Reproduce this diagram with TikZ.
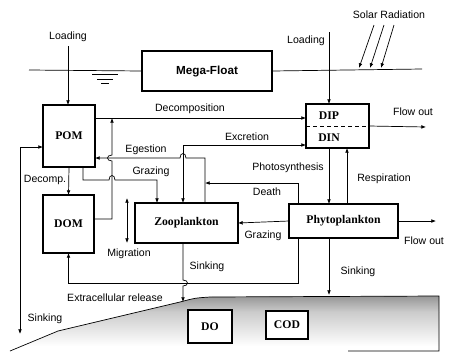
\documentclass[tikz,border=0pt]{standalone}
\usepackage{fontspec}
\setmainfont{Liberation Sans}
\newfontfamily\boxfont{Liberation Serif}
\usetikzlibrary{arrows.meta,calc}

\begin{document}
\begin{tikzpicture}[x={(0.03cm,0)}, y={(0,-0.03cm)},
    lbl/.style={font=\fontsize{9}{10}\selectfont, inner sep=0pt},
    box/.style={draw, line width=1.2pt, inner sep=0pt, outer sep=0pt, fill=white,
        font=\boxfont\bfseries\fontsize{10}{12}\selectfont},
    flow/.style={line width=0.6pt, -{Latex[length=4pt,width=3.2pt]}},
    flowb/.style={line width=0.6pt, {Latex[length=4pt,width=3.2pt]}-{Latex[length=4pt,width=3.2pt]}},
    line/.style={line width=0.6pt}]
    \useasboundingbox (0,0) rectangle (452,352);

    %sediment
        \begin{scope}
            \clip (10,351) -- (58,331) -- (180,302) .. controls (195,298) .. (210,297) -- (439,296) -- (439,351) -- cycle;
            \shade[top color=gray!85, bottom color=gray!40] (0,295) rectangle (440,312);
            \shade[top color=gray!40, bottom color=white] (0,312) rectangle (440,346);
        \end{scope}
        \draw[line] (10,351) -- (58,331) -- (180,302) .. controls (195,298) .. (210,297) -- (439,296) -- (439,351) -- (348,351);

    %boxes
        \node[box, minimum width=3.9cm, minimum height=1.2cm, font=\bfseries\fontsize{10}{12}\selectfont] (mega) at (207,71) {Mega-Float};
        \node[box, minimum width=1.56cm, minimum height=1.86cm] (pom) at (69,136) {POM};
        \node[box, minimum width=1.53cm, minimum height=1.74cm] (dom) at (68.5,224) {DOM};
        \node[box, minimum width=1.89cm, minimum height=1.32cm] (nut) at (337.5,126) {};
        \node[box, minimum width=3.09cm, minimum height=1.2cm] (zoo) at (186.5,223) {Zooplankton};
        \node[box, minimum width=3.27cm, minimum height=1.02cm] (phyto) at (343.5,221) {Phytoplankton};
        \node[box, minimum width=1.32cm, minimum height=0.99cm] (do) at (210,326.5) {DO};
        \node[box, minimum width=1.26cm, minimum height=0.84cm] (cod) at (287,325) {COD};
        \draw[dashed, line] (nut.west) -- (nut.east);
        \node[box, draw=none, fill=none] (dip) at (329,116) {DIP};
        \node[box, draw=none, fill=none] (din) at (329,138) {DIN};

    %water surface and sun
        \coordinate (wl) at (29,70);
        \coordinate (wr) at (422,69);
        \draw[line] (wl) -- (mega.west);
        \draw[line] (mega.east) -- (wr);
        \draw[line] (92,74) -- (118,74);
        \draw[line] (97,79) -- (113,79);
        \draw[line] (101,83) -- (109,83);
        \node[lbl] (solar) at (389,15) {Solar Radiation};
        \foreach \xa/\xb in {374/359, 384/370, 394/381}
            \draw[flow] (\xa,25) -- (\xb,68);

    %loadings
        \node[lbl] (loadL) at (68,37) {Loading};
        \draw[flow] (loadL.south) ++(0,4) -- (pom.north -| loadL.south);
        \node[lbl] (loadR) at (306,41) {Loading};
        \coordinate (ldR) at (329,32);
        \draw[flow] (ldR) -- (nut.north -| ldR);

    %flows between boxes
        \coordinate (xe) at (183,0);
        \coordinate (xg) at (205,0);
        \coordinate (xp) at (329,0);
        \coordinate (xr) at (347,0);
        \coordinate (xd) at (298,0);
        \draw[flow] (pom.east |- 0,118) -- (nut.west |- 0,118);
        \node[lbl] (dec) at (190,109) {Decomposition};
        \draw[flowb] (zoo.north -| xe) -- (183,145) -- (nut.west |- 0,145);
        \node[lbl] (exc) at (247,137) {Excretion};
        \draw[flow] (zoo.north -| xg) -- (205,158) -- (186,158) .. controls (186,152) and (180,152) .. (180,158) -- (pom.east |- 0,158);
        \node[lbl] (ege) at (146,150) {Egestion};
        \draw[flow] (pom.south -| 83,0) -- (83,180) -- (109,180) .. controls (109,174) and (115,174) .. (115,180) -- (157,180) -- (zoo.north -| 157,0);
        \node[lbl] (grz1) at (151,172) {Grazing};
        \draw[flow] (dom.east |- 0,219) -- (112,219) -- (112,161) .. controls (106,161) and (106,155) .. (112,155) -- (112,118);
        \draw[flow] (pom.south) -- (dom.north);
        \node[lbl] (dcp) at (45,180) {Decomp.};
        \draw[flowb] (pom.west |- 0,147) -- (20,147) -- (20,334);
        \node[lbl] (snk1) at (45,319) {Sinking};
        \draw[flow] (phyto.north -| xd) -- (298,183) -- (205,183);
        \node[lbl] (dth) at (267,192) {Death};
        \draw[flow] (nut.south -| xp) -- (phyto.north -| xp);
        \node[lbl] (phs) at (288,168) {Photosynthesis};
        \draw[flow] (phyto.north -| xr) -- (nut.south -| xr);
        \node[lbl] (rsp) at (384,179) {Respiration};
        \draw[flow] (phyto.west) -- (zoo.east);
        \node[lbl] (grz2) at (263,236) {Grazing};
        \draw[flow] (phyto.east) -- (436,221);
        \node[lbl] (out2) at (424,241) {Flow out};
        \draw[flow] (nut.east) -- (426,127);
        \node[lbl] (out1) at (413,112) {Flow out};
        \draw[flow] (phyto.south -| xd) -- (298,283) -- (68.5,283) -- (dom.south);
        \node[lbl] (ext) at (115,298) {Extracellular release};
        \draw[flow] (zoo.south -| xe) -- (183,280) .. controls (189,280) and (189,286) .. (183,286) -- (183,302);
        \node[lbl] (snk2) at (207,267) {Sinking};
        \draw[flow] (phyto.south -| xp) -- (329,295);
        \node[lbl] (snk3) at (358,272) {Sinking};
        \draw[flowb] (127,198) -- (127,243);
        \node[lbl] (mig) at (129,254) {Migration};

\end{tikzpicture}
\end{document}
